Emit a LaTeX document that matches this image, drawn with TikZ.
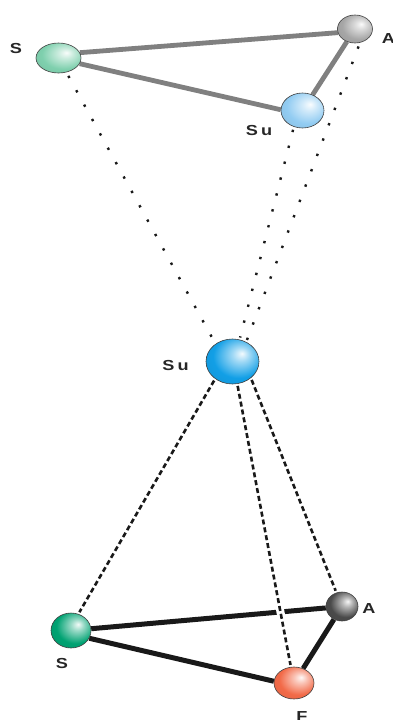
\documentclass[tikz,border=0pt]{standalone}
\usepackage{fontspec}
\newfontfamily\labfont[FakeStretch=1.25,UprightFont={* Bold}]{Liberation Sans}
\usetikzlibrary{shapes.geometric}
\colorlet{ballc}{gray}
\pgfdeclareradialshading[ballc]{rball}{\pgfqpoint{9bp}{9bp}}{color(0bp)=(ballc!5!white); color(8bp)=(ballc!40!white); color(24bp)=(ballc); color(45bp)=(ballc!90!black); color(65bp)=(ballc!78!black)}
\definecolor{cS1}{HTML}{7FD0AE}
\definecolor{cA1}{HTML}{A6A6A6}
\definecolor{cSu1}{HTML}{92CCF2}
\definecolor{cSu2}{HTML}{129FE6}
\definecolor{cS2}{HTML}{00A272}
\definecolor{cA2}{HTML}{4A4A4A}
\definecolor{cF}{HTML}{F26A48}
\definecolor{grayline}{HTML}{808080}
\pgfdeclarelayer{bg}
\pgfsetlayers{bg,main}
\tikzset{
  ball/.style n args={3}{ellipse, minimum width=#1, minimum height=#2, inner sep=0pt,
    draw=black!75, line width=0.6pt, /utils/exec={\colorlet{ballc}{#3}}, shade, shading=rball},
  lab/.style={font=\labfont\fontsize{14.5}{15}\selectfont, text=black!85, inner sep=0pt, anchor=base},
  grayedge/.style={draw=grayline, line width=4.8pt},
  blackedge/.style={draw=black!90, line width=5pt},
  dotline/.style={draw=black!90, line width=2.4pt, dash pattern=on 2.4pt off 14pt},
  dashline/.style={draw=black!90, line width=2.6pt, dash pattern=on 5pt off 3pt},
  halo/.style={preaction={draw=white, line width=8pt, solid}}
}
\begin{document}
\begin{tikzpicture}[x=1pt, y=-1pt]
\useasboundingbox (0,0) rectangle (393,720);
% balls
\node[ball={45pt}{30pt}{cS1}] (s1) at (58.5,58) {};
\node[ball={35pt}{28pt}{cA1}] (a1) at (355,29) {};
\node[ball={43pt}{35pt}{cSu1}] (su1) at (302.5,110.5) {};
\node[ball={53pt}{45pt}{cSu2}] (su2) at (232.5,361.5) {};
\node[ball={40pt}{35pt}{cS2}] (s2) at (71,630.5) {};
\node[ball={32pt}{29pt}{cA2}] (a2) at (342,606.5) {};
\node[ball={40pt}{32pt}{cF}] (f) at (294,683) {};
% labels
\node[lab] (ls1) at (16,53) {S};
\node[lab] (la1) at (388.5,43) {A};
\node[lab] (lsu1) at (259,135) {S\kern3pt u};
\node[lab] (lsu2) at (175.5,370) {S\kern3pt u};
\node[lab] (ls2) at (62,668) {S};
\node[lab] (la2) at (369,613) {A};
\node[lab] (lf) at (302,721.5) {F};
\begin{pgfonlayer}{bg}
  % top triangle
  \draw[grayedge] (s1.14) -- (a1.192);
  \draw[grayedge] (s1.345) -- (su1.178);
  \draw[grayedge] (a1) -- (su1);
  % dotted projections
  \draw[dotline, shorten <=4pt] (s1) -- (su2.134);
  \draw[dotline, shorten <=3pt, shorten >=2pt] (su1.242) -- (su2.72);
  \draw[dotline, shorten <=4pt, shorten >=2pt] (a1.290) -- (su2.55);
  % bottom triangle
  \draw[blackedge] (s2) -- (a2);
  \draw[blackedge] (s2.337) -- (f.175);
  \draw[blackedge] (a2) -- (f);
  % dashed projections
  \draw[dashline, shorten <=2pt, shorten >=2pt] (su2.225) -- (s2.66);
  \draw[dashline, halo, shorten <=2pt, shorten >=2pt] (su2.282) -- (f.101);
  \draw[dashline, shorten <=2pt, shorten >=2pt] (su2.318) -- (a2.112);
\end{pgfonlayer}
\end{tikzpicture}
\end{document}
